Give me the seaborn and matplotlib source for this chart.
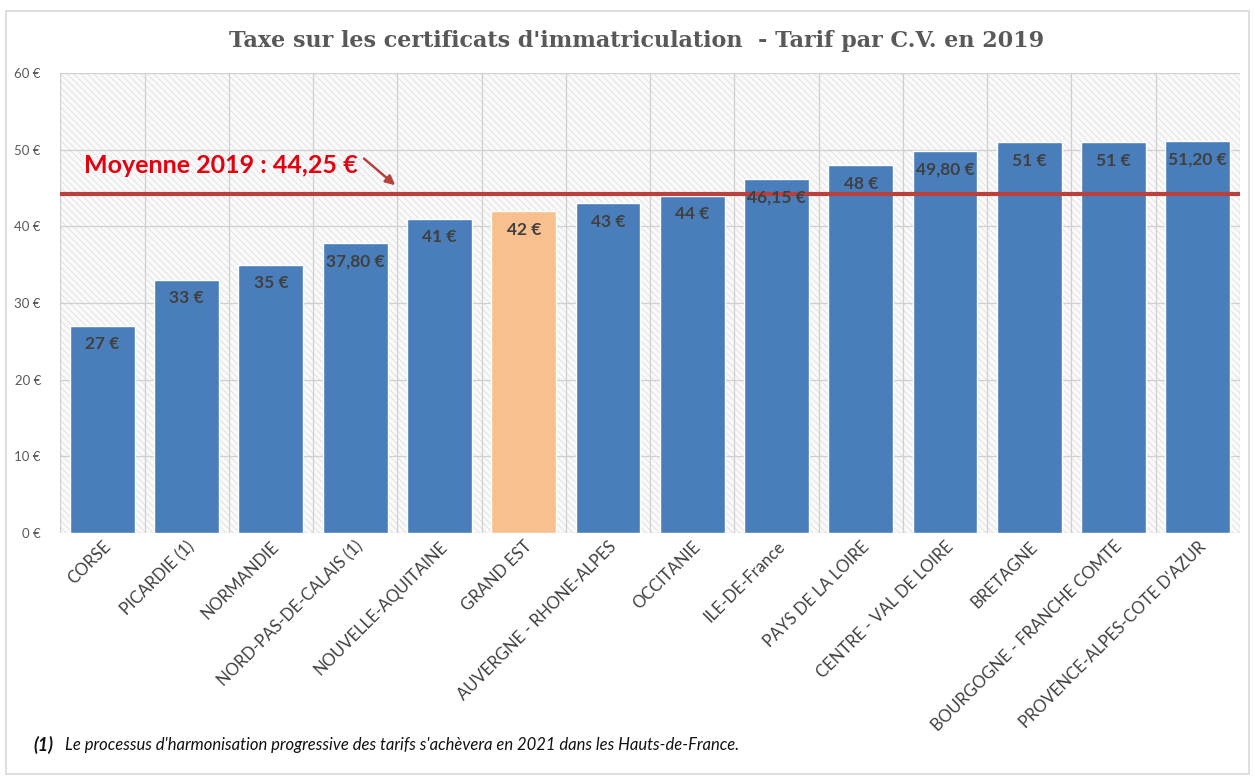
import matplotlib
matplotlib.use("Agg")
import matplotlib.pyplot as plt
import seaborn as sns
import pandas as pd
from matplotlib.patches import Rectangle

regions = ["CORSE", "PICARDIE (1)", "NORMANDIE", "NORD-PAS-DE-CALAIS (1)",
           "NOUVELLE-AQUITAINE", "GRAND EST", "AUVERGNE - RHONE-ALPES",
           "OCCITANIE", "ILE-DE-France", "PAYS DE LA LOIRE",
           "CENTRE - VAL DE LOIRE", "BRETAGNE", "BOURGOGNE - FRANCHE COMTE",
           "PROVENCE-ALPES-COTE D'AZUR"]
tarifs = [27, 33, 35, 37.80, 41, 42, 43, 44, 46.15, 48, 49.80, 51, 51, 51.20]
highlight = "GRAND EST"
moyenne = 44.25
y_ticks = [0, 10, 20, 30, 40, 50, 60]

sns.set_theme(style="white")
plt.rcParams["font.family"] = ["Lato", "DejaVu Sans"]
plt.rcParams["hatch.linewidth"] = 0.5


def euro(v):
    if float(v).is_integer():
        return f"{int(v)} €"
    return f"{v:.2f} €".replace(".", ",")


df = pd.DataFrame({"region": regions, "tarif": tarifs})
palette = {r: ("#F9C08F" if r == highlight else "#4A7EBB") for r in regions}

fig = plt.figure(figsize=(12.55, 7.8), dpi=100)
fig.patches.append(Rectangle((0.005, 0.008), 0.99, 0.978, transform=fig.transFigure,
                             fill=False, edgecolor="#d9d9d9", linewidth=1.2))
ax = fig.add_axes([0.048, 0.317, 0.940, 0.589])
ax.set_facecolor("none")
# hatched plot-area background
ax.add_patch(Rectangle((0, 0), 1, 1, transform=ax.transAxes, facecolor="#fafafa",
                       edgecolor="#dadada", hatch="\\\\\\\\\\", linewidth=0,
                       zorder=0))

sns.barplot(data=df, x="region", y="tarif", hue="region", palette=palette,
            dodge=False, legend=False, width=0.77, saturation=1, ax=ax, zorder=3)

ax.set_xlim(-0.5, len(regions) - 0.5)
ax.set_ylim(0, 60)
ax.set_yticks(y_ticks)
ax.set_yticklabels([f"{t} €" for t in y_ticks], fontsize=9.5, color="#595959")
ax.set_xlabel("")
ax.set_ylabel("")

# grid: horizontal at each tick, vertical between categories
for t in y_ticks:
    ax.axhline(t, color="#d0d0d0", linewidth=0.9, zorder=1)
for i in range(len(regions) + 1):
    ax.axvline(i - 0.5, color="#d0d0d0", linewidth=0.9, zorder=1)
for s in ax.spines.values():
    s.set_visible(False)
ax.tick_params(axis="y", length=0, pad=14)
ax.tick_params(axis="x", length=0, pad=4)

ax.set_xticks(range(len(regions)))
ax.set_xticklabels(regions, rotation=45, ha="right", rotation_mode="anchor",
                   fontsize=12, color="#404040")

for i, v in enumerate(tarifs):
    ax.text(i, v - 2.4, euro(v), ha="center", va="center", fontsize=12.5,
            fontweight="bold", color="#404040", zorder=5)

ax.axhline(moyenne, color="#B8403D", linewidth=3, zorder=4)
ax.annotate("", xy=(3.5, moyenne + 0.9), xytext=(3.08, 49.1),
            arrowprops=dict(arrowstyle="-|>", color="#B8403D", lw=1.8,
                            mutation_scale=14), zorder=6)
ax.text(-0.22, 48.0, "Moyenne 2019 : 44,25 €", fontsize=18, fontweight="bold",
        color="#E3000F", ha="left", va="center", zorder=6)

fig.text(0.507, 0.948, "Taxe sur les certificats d'immatriculation  - Tarif par C.V. en 2019",
         ha="center", va="center", fontsize=16, fontweight="bold",
         color="#595959", family="DejaVu Serif")

fig.text(0.027, 0.045, "(1)", fontsize=13, style="italic", fontweight="bold",
         color="#111111", ha="left", va="center")
fig.text(0.052, 0.045,
         "Le processus d'harmonisation progressive des tarifs s'achèvera en 2021 dans les Hauts-de-France.",
         fontsize=12, style="italic", color="#111111", ha="left", va="center")

fig.savefig("out.png", dpi=100)
